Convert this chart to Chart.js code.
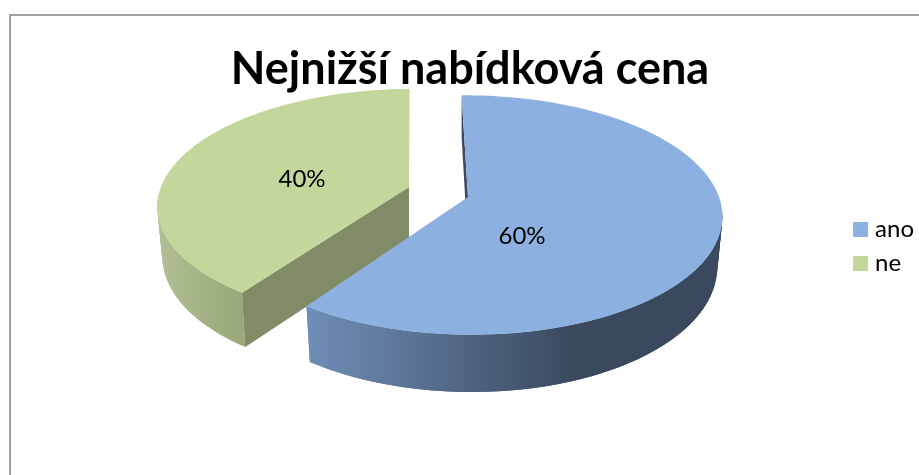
<!DOCTYPE html>
<html>
<head>
<meta charset="utf-8">
<title>Nejnižší nabídková cena</title>
<script src="https://cdn.jsdelivr.net/npm/chart.js@4"></script>
<style>
    html, body { margin: 0; padding: 0; background: #fff; overflow: hidden; }
    #wrap { position: relative; width: 919px; height: 475px; }
    #frame { position: absolute; left: 9px; top: 14px; right: 0; bottom: 0; border-left: 2px solid #a0a0a0; border-top: 2px solid #a0a0a0; }
    canvas { position: absolute; left: 0; top: 0; }
</style>
</head>
<body>
<div id="wrap">
    <div id="frame"></div>
    <canvas id="chart" width="919" height="475"></canvas>
</div>
<script>
const chartTitle = 'Nejnižší nabídková cena';
const categories = ['ano', 'ne'];
const shares = [60, 40];
const colors = ['#8cb1e0', '#c3d69b'];

// look of each slice: the pie is projected by hand to get the tilted 3D view
const sliceLooks = [
    { apexX: 468, apexY: 197, rx: 251, ry: 117, skew: 3, depth: 49, faceDrop: 0, face: '#3b4a5f',
      wall: [[0, '#6f8fb8'], [0.64, '#3a495e'], [1, '#3a495e']], labelX: 54, labelY: 39 },
    { apexX: 409, apexY: 187, rx: 248, ry: 113, skew: -5, depth: 48, faceDrop: 4, face: '#7f8c65',
      wall: [[0, '#b1c095'], [1, '#98a87b']], labelX: -107, labelY: -8 }
];
const tilt = 0.151;
const lowerRx = 0.98;
const lowerRy = 1.06;
const steps = 120;

function project(look, lower, angle) {
    const u = Math.cos(angle);
    const v = Math.sin(angle);
    const w = 1 - tilt * v;
    const rx = look.rx * (lower ? lowerRx : 1);
    const ry = look.ry * (lower ? lowerRy : 1);
    return {
        x: look.apexX + (rx * u + look.skew * v) / w,
        y: look.apexY + (lower ? look.depth : 0) + ry * v / w
    };
}

function rimPoints(look, lower, start, end) {
    const pts = [];
    for (let i = 0; i <= steps; i++) {
        pts.push(project(look, lower, start + (end - start) * i / steps));
    }
    return pts;
}

function fillPoints(ctx, pts, fill) {
    ctx.beginPath();
    pts.forEach((p, i) => i ? ctx.lineTo(p.x, p.y) : ctx.moveTo(p.x, p.y));
    ctx.closePath();
    ctx.fillStyle = fill;
    ctx.fill();
}

const tiltedPie = {
    id: 'tiltedPie',
    beforeDatasetDraw(chart, args) {
        const ctx = chart.ctx;
        const arcs = chart.getDatasetMeta(args.index).data;
        ctx.save();
        // back slice first so the blue one sits on top of it
        [1, 0].forEach(i => {
            const look = sliceLooks[i];
            const { startAngle, endAngle } = arcs[i];
            const upper = rimPoints(look, false, startAngle, endAngle);
            const lower = rimPoints(look, true, startAngle, endAngle);
            const xs = upper.map(p => p.x);
            const left = i === 0 ? upper[steps].x : Math.min(...xs);
            const right = i === 0 ? Math.max(...xs) : upper[0].x;
            const grad = ctx.createLinearGradient(left, 0, right, 0);
            look.wall.forEach(s => grad.addColorStop(s[0], s[1]));

            // outer wall, only the front part of the rim shows
            // quads overlap by one step so no seams show between them
            for (let s = 0; s < steps; s++) {
                const angle = startAngle + (endAngle - startAngle) * s / steps;
                if (Math.sin(angle) < 0.1) continue;
                const e = Math.min(s + 2, steps);
                fillPoints(ctx, [upper[s], upper[e], lower[e], lower[s]], grad);
            }
            // radial face at the first angle of the slice
            const apex = { x: look.apexX, y: look.apexY };
            const apexLow = { x: look.apexX, y: look.apexY + look.depth + look.faceDrop };
            fillPoints(ctx, [apex, upper[0], lower[0], apexLow], look.face);
            // top
            fillPoints(ctx, [apex].concat(upper), colors[i]);
        });
        ctx.fillStyle = '#000';
        ctx.font = '24px Lato';
        ctx.textAlign = 'center';
        ctx.textBaseline = 'middle';
        sliceLooks.forEach((look, i) => {
            ctx.fillText(shares[i] + '%', look.apexX + look.labelX, look.apexY + look.labelY);
        });
        ctx.restore();
        return false;
    }
};

new Chart(document.getElementById('chart'), {
    type: 'pie',
    data: {
        labels: categories,
        // the border only pads out the legend swatch, the arcs are drawn by tiltedPie
        datasets: [{ data: shares, backgroundColor: colors, borderColor: colors, borderWidth: 10 }]
    },
    plugins: [tiltedPie],
    options: {
        responsive: false,
        animation: false,
        rotation: -1,
        layout: { padding: { left: 16, right: -5, top: 18, bottom: 0 } },
        plugins: {
            tooltip: { enabled: false },
            title: {
                display: true,
                text: chartTitle,
                color: '#000',
                font: { family: 'Lato', size: 45, weight: 'bold' },
                padding: { top: 24, bottom: 10 }
            },
            legend: {
                position: 'right',
                labels: {
                    color: '#000',
                    font: { family: 'Lato', size: 24 },
                    boxWidth: 5,
                    boxHeight: 5,
                    padding: 10
                }
            }
        }
    }
});
</script>
</body>
</html>
